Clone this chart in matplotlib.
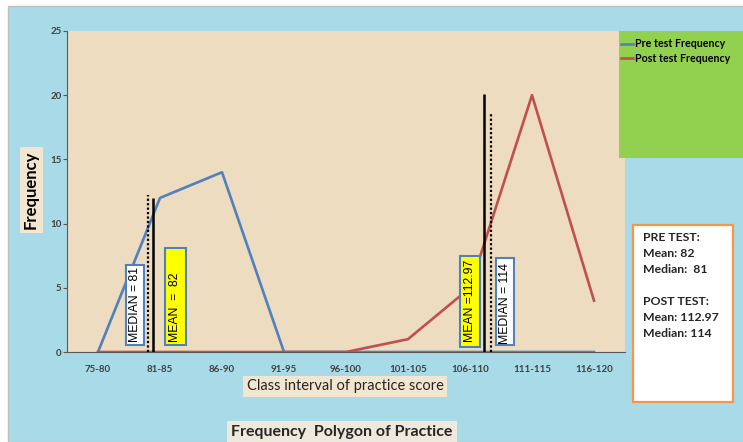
import matplotlib
matplotlib.use("Agg")
import matplotlib.pyplot as plt
from matplotlib.patches import Rectangle
from matplotlib.lines import Line2D

# ── Data ─────────────────────────────────────────────────────────────────────
classes = ["75-80", "81-85", "86-90", "91-95", "96-100",
           "101-105", "106-110", "111-115", "116-120"]
pre_freq = [0, 12, 14, 0, 0, 0, 0, 0, 0]
post_freq = [0, 0, 0, 0, 0, 1, 5, 20, 4]
pre_mean, pre_median = 82, 81
post_mean, post_median = 112.97, 114

# ── Palette ──────────────────────────────────────────────────────────────────
BLUE = "#4F81BD"
RED = "#C0504D"
WATER = "#A8DBE7"
SAND = "#EDDCBF"
GREEN = "#92D050"
ORANGE = "#F79646"
LABELBG = "#F3E6D0"
DARK = "#262626"
FONT = "Lato"

fig = plt.figure(figsize=(7.43, 4.42), dpi=100)
fig.patch.set_facecolor("white")

# outer chart area
fig.add_artist(Rectangle((8/743, 0), 1, 436/442, transform=fig.transFigure,
                         fc=WATER, ec="#BFBFBF", lw=1, zorder=0))

ax = fig.add_axes([67/743, 90/442, 558/743, 321/442])
ax.set_facecolor(SAND)
x = list(range(len(classes)))

ax.plot(x, pre_freq, color=BLUE, lw=1.9, zorder=3, label="Pre test Frequency")
ax.plot(x, post_freq, color=RED, lw=1.9, zorder=4, label="Post test Frequency")

# mean / median markers (positions in class-index units)
marks = [
    (0.89, 12.0, "-"), (0.81, 12.2, (0, (1, 1))),
    (6.23, 20.1, "-"), (6.34, 18.6, (0, (1, 1))),
]
for mx, top, ls in marks:
    ax.plot([mx, mx], [0, top], color="black", lw=1.8 if ls == "-" else 1.6,
            ls=ls, zorder=5, solid_capstyle="butt")

tags = [
    (0.452, 0.742, 0.55, 6.78, 3.70, f"MEDIAN = {pre_median}", "white"),
    (1.08, 1.42, 0.55, 8.10, 3.50, f"MEAN  =  {pre_mean}", "#FFFF00"),
    (5.84, 6.16, 0.40, 7.50, 3.97, f"MEAN ={post_mean}", "#FFFF00"),
    (6.42, 6.71, 0.55, 7.30, 3.80, f"MEDIAN = {post_median}", "white"),
]
for x0, x1, y0, y1, ty, txt, fc in tags:
    ax.add_patch(Rectangle((x0, y0), x1 - x0, y1 - y0, fc=fc, ec=BLUE,
                           lw=1.5, zorder=6))
    ax.text((x0 + x1) / 2, ty, txt, rotation=90, ha="center", va="center",
            fontsize=8.8, family="Liberation Sans", color="black", zorder=7)

ax.set_xlim(-0.5, len(classes) - 0.5)
ax.set_ylim(0, 25)
ax.set_yticks([0, 5, 10, 15, 20, 25])
ax.set_xticks(x)
ax.set_xticklabels(classes)
for s in ["top", "right"]:
    ax.spines[s].set_visible(False)
ax.spines["left"].set_color("#595959")
ax.spines["bottom"].set_color("#595959")
ax.tick_params(axis="y", length=3, width=0.8, color="#595959", pad=1)
ax.tick_params(axis="x", length=0, pad=9)
for lab in ax.get_xticklabels() + ax.get_yticklabels():
    lab.set_family(FONT)
    lab.set_fontsize(7)
    lab.set_fontweight("bold")
    lab.set_color("#404040")

# axis titles with beige boxes
fig.text(31/743, 1 - 190/442, "Frequency", rotation=90, ha="center",
         va="center", fontsize=12, fontweight="bold", family=FONT, color="black",
         bbox=dict(fc=LABELBG, ec="none", pad=2.5))
fig.text(345/743, 1 - 386/442, "Class interval of practice score", ha="center",
         va="center", fontsize=10.5, family=FONT, color=DARK,
         bbox=dict(fc=LABELBG, ec="none", pad=2.5))
fig.text(342/743, 1 - 432/442, "Frequency  Polygon of Practice", ha="center",
         va="center", fontsize=11.5, fontweight="bold", family=FONT, color=DARK,
         bbox=dict(fc="#EFE8DC", ec="none", pad=3))

# legend panel
fig.add_artist(Rectangle((619/743, 1 - 158/442), 124/743, 127/442,
                         transform=fig.transFigure, fc=GREEN, ec="none", zorder=1))
fig.legend(handles=[Line2D([], [], color=BLUE, lw=1.9),
                    Line2D([], [], color=RED, lw=1.9)],
           labels=["Pre test Frequency", "Post test Frequency"],
           loc="upper left", bbox_to_anchor=(614/743, 1 - 31/442),
           frameon=False, handlelength=1.1, handletextpad=0.15,
           labelspacing=0.3, borderpad=0.2,
           prop=dict(family=FONT, size=7.7, weight="bold"))

# summary box
fig.add_artist(Rectangle((633/743, 1 - 402/442), 100/743, 177/442,
                         transform=fig.transFigure, fc="white", ec=ORANGE,
                         lw=1.6, zorder=1))
summary = (f"PRE TEST:\nMean: {pre_mean}\nMedian:  {pre_median}\n\n"
           f"POST TEST:\nMean: {post_mean}\nMedian: {post_median}")
fig.text(643/743, 1 - 232/442, summary, ha="left", va="top", fontsize=8.8,
         fontweight="bold", family=FONT, color=DARK, linespacing=1.55, zorder=2)

plt.savefig("out.png", dpi=100, facecolor="white")
